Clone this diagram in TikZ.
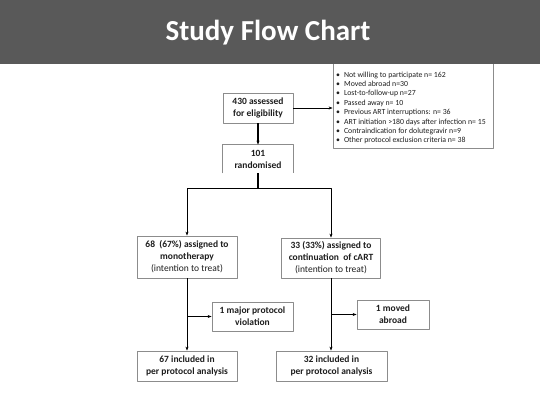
\documentclass[tikz,border=0pt]{standalone}
\usepackage{fontspec}
\setmainfont{Carlito}
\usetikzlibrary{arrows.meta}
\definecolor{barfill}{HTML}{595959}
\definecolor{boxline}{HTML}{8C8C8C}
\definecolor{ink}{HTML}{1E1E1E}
\tikzset{
  flowbox/.style={draw=boxline, line width=0.8pt, fill=white, text=ink, align=center,
    inner sep=2pt, font=\fontsize{9.5}{12}\selectfont\bfseries},
  flowline/.style={draw=black, line width=1pt, -{Stealth[length=4pt,width=3pt]}},
}
\begin{document}
\begin{tikzpicture}[x=1pt, y=-1pt, line join=round]
		\useasboundingbox (0,0) rectangle (540,405);
		
		% Lý do loại trừ (drawn first, top edge runs under the title bar)
		\node[draw=boxline, line width=0.8pt, minimum width=160pt, minimum height=86pt] (excl) at (413,105) {};
		\node[anchor=west, align=left, text=ink, inner sep=0pt,
		  font=\fontsize{7.8}{9.4}\selectfont] (excltext) at (336,108)
		  {\textbullet\hspace{4pt}Not willing to participate n= 162\\
		   \textbullet\hspace{4pt}Moved abroad n=30\\
		   \textbullet\hspace{4pt}Lost-to-follow-up n=27\\
		   \textbullet\hspace{4pt}Passed away n= 10\\
		   \textbullet\hspace{4pt}Previous ART interruptions: n= 36\\
		   \textbullet\hspace{4pt}ART initiation >180 days after infection n= 15\\
		   \textbullet\hspace{4pt}Contraindication for dolutegravir n=9\\
		   \textbullet\hspace{4pt}Other protocol exclusion criteria n= 38};
		
		% Thanh tiêu đề
		\fill[barfill] (0,0) rectangle (540,64);
		\node[text=white, font=\fontsize{29}{32}\selectfont\bfseries] (title) at (268,33) {Study Flow Chart};
		
		% Các hộp
		\node[flowbox, minimum width=70pt, minimum height=30pt] (assess) at (258,108) {430 assessed\\for eligibility};
		\node[flowbox, draw=none, minimum width=70pt, minimum height=28pt] (rand) at (258,159) {101\\randomised};
		\node[flowbox, minimum width=100pt, minimum height=42pt] (mono) at (187,257)
		  {68 \ (67\%) assigned to\\monotherapy\\{\mdseries (intention to treat)}};
		\node[flowbox, minimum width=99pt, minimum height=40pt] (cart) at (331,258)
		  {33 (33\%) assigned to\\continuation \ of cART\\{\mdseries (intention to treat)}};
		\node[flowbox, minimum width=81pt, minimum height=29pt] (viol) at (252.5,316.5) {1 major protocol\\violation};
		\node[flowbox, minimum width=72pt, minimum height=29pt] (moved) at (393,314.5) {1 moved\\abroad};
		\node[flowbox, minimum width=100pt, minimum height=30pt] (pp1) at (187,366) {67 included in\\per protocol analysis};
		\node[flowbox, minimum width=111pt, minimum height=30pt] (pp2) at (331.5,366) {32 included in\\per protocol analysis};
		
		% Hộp randomised: không có cạnh dưới
		\draw[boxline, line width=0.8pt] (rand.south west) -- (rand.north west) -- (rand.north east) -- (rand.south east);
		
		% Điểm chia nhánh
		\coordinate (split) at (258,188);
		
		% Các mũi tên
		\draw[flowline] (assess.east) -- (excl.west |- assess.east);
		\draw[flowline, line width=1.5pt] (assess.south) -- (rand.north);
		\draw[line width=1.7pt] (rand.south) -- (split);
		\draw[flowline] (split) -| (mono.north);
		\draw[flowline] (split) -| (cart.north);
		\draw[flowline] (mono.south) -- (pp1.north);
		\draw[flowline] (mono.south |- viol.west) -- (viol.west);
		\draw[flowline] (cart.south) -- (cart.south |- pp2.north);
		\draw[flowline] (cart.south |- moved.west) -- (moved.west);
		\end{tikzpicture}
\end{document}
